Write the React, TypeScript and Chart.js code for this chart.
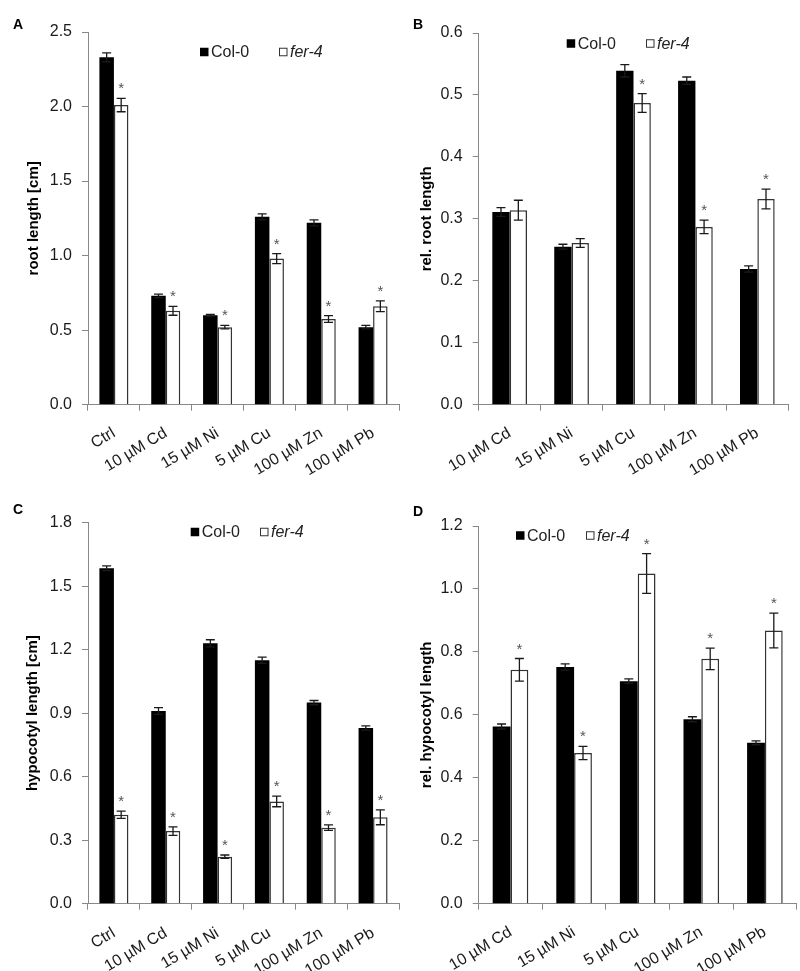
import React, { useEffect, useRef } from 'react';
import { Chart, registerables } from 'chart.js';
Chart.register(...registerables);

const catsAC = ['Ctrl', '10 µM Cd', '15 µM Ni', '5 µM Cu', '100 µM Zn', '100 µM Pb'];
const catsBD = ['10 µM Cd', '15 µM Ni', '5 µM Cu', '100 µM Zn', '100 µM Pb'];
const seriesNames = ['Col-0', 'fer-4'];

const aCol = [2.33, 0.73, 0.6, 1.26, 1.22, 0.52];
const aColErr = [0.03, 0.012, 0.006, 0.02, 0.02, 0.012];
const aFer = [2.01, 0.63, 0.52, 0.98, 0.575, 0.66];
const aFerErr = [0.045, 0.03, 0.012, 0.034, 0.023, 0.036];
const aStar = [true, true, true, true, true, true];

const bCol = [0.311, 0.255, 0.539, 0.523, 0.219];
const bColErr = [0.007, 0.004, 0.01, 0.006, 0.005];
const bFer = [0.314, 0.261, 0.487, 0.287, 0.332];
const bFerErr = [0.016, 0.007, 0.015, 0.011, 0.016];
const bStar = [false, false, true, true, true];

const cCol = [1.585, 0.91, 1.23, 1.15, 0.95, 0.83];
const cColErr = [0.011, 0.016, 0.017, 0.015, 0.01, 0.01];
const cFer = [0.42, 0.343, 0.222, 0.483, 0.359, 0.408];
const cFerErr = [0.017, 0.02, 0.008, 0.025, 0.013, 0.035];
const cStar = [true, true, true, true, true, true];

const dCol = [0.563, 0.752, 0.707, 0.586, 0.511];
const dColErr = [0.008, 0.01, 0.007, 0.008, 0.006];
const dFer = [0.743, 0.479, 1.049, 0.778, 0.868];
const dFerErr = [0.036, 0.021, 0.063, 0.034, 0.055];
const dStar = [true, true, true, true, true];

const FONT = '"Liberation Sans", Arial, sans-serif';

type PanelCfg = {
  letter: string;
  cats: string[];
  col: number[];
  colErr: number[];
  fer: number[];
  ferErr: number[];
  stars: boolean[];
  yMax: number;
  yStep: number;
  yTitle: string;
  width: number;
  height: number;
  top: number;
  bottom: number;
  left: number;
  rightPad: number;
  titlePad: number;
  xPad: number;
  legend: { x: number; y: number; gap: number };
  labelPos: { x: number; y: number };
};

const decorPlugin = {
  id: 'decor',
  afterDatasetsDraw(chart: any, _args: any, opts: any) {
    const ctx = chart.ctx;
    const ys = chart.scales.y;
    ctx.save();
    chart.data.datasets.forEach((ds: any, di: number) => {
      const meta = chart.getDatasetMeta(di);
      const errs = opts.errs[di];
      meta.data.forEach((bar: any, i: number) => {
        const v = ds.data[i];
        const e = errs[i];
        const x = bar.x;
        const yt = ys.getPixelForValue(v + e);
        const yb = ys.getPixelForValue(v - e);
        ctx.strokeStyle = '#1a1a1a';
        ctx.lineWidth = 1.3;
        ctx.beginPath();
        ctx.moveTo(x, yt);
        ctx.lineTo(x, yb);
        ctx.moveTo(x - 4.5, yt);
        ctx.lineTo(x + 4.5, yt);
        ctx.moveTo(x - 4.5, yb);
        ctx.lineTo(x + 4.5, yb);
        ctx.stroke();
        if (di === 1 && opts.stars[i]) {
          ctx.fillStyle = '#555';
          ctx.font = `15px ${FONT}`;
          ctx.textAlign = 'center';
          ctx.textBaseline = 'alphabetic';
          ctx.fillText('*', x, yt - 5);
        }
      });
    });
    ctx.restore();
  },
  afterDraw(chart: any, _args: any, opts: any) {
    const ctx = chart.ctx;
    ctx.save();
    ctx.fillStyle = '#000';
    ctx.font = `bold 14px ${FONT}`;
    ctx.textAlign = 'left';
    ctx.textBaseline = 'middle';
    ctx.fillText(opts.letter, opts.labelPos.x, opts.labelPos.y);
    const L = opts.legend;
    const sq = 8.5;
    const names = chart.data.datasets.map((d: any) => d.label);
    names.forEach((name: string, i: number) => {
      const x = L.x + i * L.gap;
      if (i === 0) {
        ctx.fillStyle = '#000';
        ctx.fillRect(x, L.y - sq / 2, sq, sq);
      } else {
        ctx.fillStyle = '#fff';
        ctx.fillRect(x, L.y - sq / 2, sq, sq);
        ctx.strokeStyle = '#333';
        ctx.lineWidth = 1;
        ctx.strokeRect(x + 0.5, L.y - sq / 2 + 0.5, sq - 1, sq - 1);
      }
      ctx.fillStyle = '#222';
      ctx.font = `${i === 1 ? 'italic ' : ''}16px ${FONT}`;
      ctx.textBaseline = 'middle';
      ctx.fillText(name, x + sq + 2.5, L.y + 1);
    });
    ctx.restore();
  },
};

function Panel({ cfg }: { cfg: PanelCfg }) {
  const ref = useRef<HTMLCanvasElement>(null);
  useEffect(() => {
    const chart = new Chart(ref.current as HTMLCanvasElement, {
      type: 'bar',
      data: {
        labels: cfg.cats,
        datasets: [
          {
            label: seriesNames[0],
            data: cfg.col,
            backgroundColor: '#000',
            borderColor: '#000',
            borderWidth: 0,
            categoryPercentage: 0.56,
            barPercentage: 1,
          },
          {
            label: seriesNames[1],
            data: cfg.fer,
            backgroundColor: '#fff',
            borderColor: '#333',
            borderWidth: 1.5,
            categoryPercentage: 0.56,
            barPercentage: 1,
          },
        ],
      },
      options: {
        responsive: false,
        animation: false,
        layout: { padding: { top: cfg.top, right: cfg.rightPad, left: 0, bottom: 0 } },
        plugins: {
          legend: { display: false },
          tooltip: { enabled: false },
          decor: {
            errs: [cfg.colErr, cfg.ferErr],
            stars: cfg.stars,
            letter: cfg.letter,
            legend: cfg.legend,
            labelPos: cfg.labelPos,
          },
        } as any,
        scales: {
          x: {
            grid: { display: true, drawOnChartArea: false, drawTicks: true, tickLength: 6, color: '#888', offset: true },
            border: { display: true, color: '#888', width: 1 },
            ticks: {
              minRotation: 31,
              maxRotation: 31,
              autoSkip: false,
              padding: cfg.xPad,
              color: '#1a1a1a',
              font: { family: FONT, size: 16 },
            },
            afterFit: (s: any) => {
              s.height = cfg.height - cfg.bottom;
            },
          },
          y: {
            min: 0,
            max: cfg.yMax,
            grid: { display: true, drawOnChartArea: false, drawTicks: true, tickLength: 6, color: '#888' },
            border: { display: true, color: '#888', width: 1 },
            ticks: {
              stepSize: cfg.yStep,
              padding: 10,
              color: '#1a1a1a',
              font: { family: FONT, size: 16 },
              callback: (v: any) => Number(v).toFixed(1),
            },
            title: {
              display: true,
              text: cfg.yTitle,
              color: '#000',
              font: { family: FONT, size: 15, weight: 'bold' },
              padding: { top: cfg.titlePad, bottom: 0 },
            },
            afterFit: (s: any) => {
              s.width = cfg.left;
            },
          },
        },
      },
      plugins: [decorPlugin as any],
    });
    return () => chart.destroy();
  }, [cfg]);
  return <canvas ref={ref} width={cfg.width} height={cfg.height} style={{ display: 'block' }} />;
}

const panels: { cfg: PanelCfg; x: number; y: number }[] = [
  {
    x: 0,
    y: 0,
    cfg: {
      letter: 'A', cats: catsAC, col: aCol, colErr: aColErr, fer: aFer, ferErr: aFerErr, stars: aStar,
      yMax: 2.5, yStep: 0.5, yTitle: 'root length [cm]', width: 400, height: 485,
      top: 32, bottom: 404.7, left: 88, rightPad: 1, titlePad: 25, xPad: 13,
      legend: { x: 200, y: 52, gap: 79 }, labelPos: { x: 13, y: 25 },
    },
  },
  {
    x: 400,
    y: 0,
    cfg: {
      letter: 'B', cats: catsBD, col: bCol, colErr: bColErr, fer: bFer, ferErr: bFerErr, stars: bStar,
      yMax: 0.6, yStep: 0.1, yTitle: 'rel. root length', width: 400, height: 485,
      top: 33, bottom: 404.7, left: 78.7, rightPad: 11.7, titlePad: 18, xPad: 13,
      legend: { x: 166.7, y: 43.5, gap: 79.3 }, labelPos: { x: 13, y: 25 },
    },
  },
  {
    x: 0,
    y: 485,
    cfg: {
      letter: 'C', cats: catsAC, col: cCol, colErr: cColErr, fer: cFer, ferErr: cFerErr, stars: cStar,
      yMax: 1.8, yStep: 0.3, yTitle: 'hypocotyl length [cm]', width: 400, height: 486,
      top: 37.7, bottom: 418.7, left: 88, rightPad: 1, titlePad: 24, xPad: 14,
      legend: { x: 190.7, y: 47, gap: 69.3 }, labelPos: { x: 13, y: 25 },
    },
  },
  {
    x: 400,
    y: 485,
    cfg: {
      letter: 'D', cats: catsBD, col: dCol, colErr: dColErr, fer: dFer, ferErr: dFerErr, stars: dStar,
      yMax: 1.2, yStep: 0.2, yTitle: 'rel. hypocotyl length', width: 400, height: 486,
      top: 41, bottom: 418.7, left: 78.7, rightPad: 3.3, titlePad: 18, xPad: 13,
      legend: { x: 116, y: 50.5, gap: 70 }, labelPos: { x: 13, y: 27 },
    },
  },
];

export default function App() {
  return (
    <div style={{ position: 'absolute', left: 0, top: 0, width: 800, height: 971, background: '#fff' }}>
      {panels.map((p) => (
        <div key={p.cfg.letter} style={{ position: 'absolute', left: p.x, top: p.y }}>
          <Panel cfg={p.cfg} />
        </div>
      ))}
    </div>
  );
}
